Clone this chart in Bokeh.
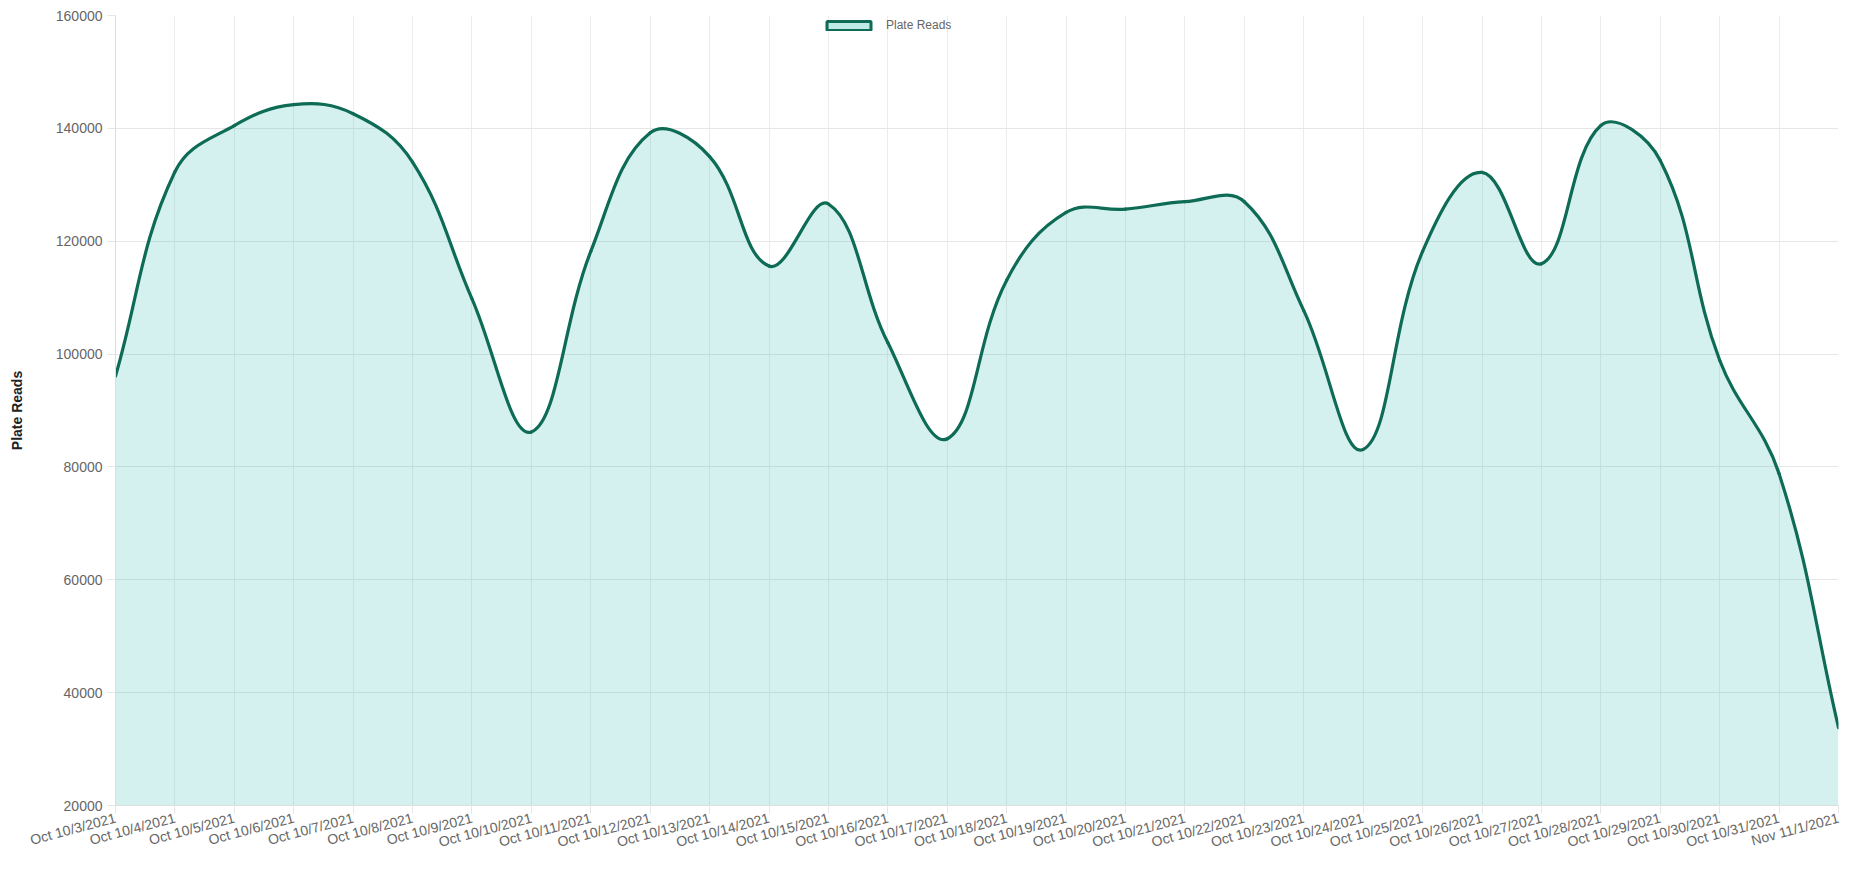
import numpy as np
from bokeh.plotting import figure
from bokeh.models import (Range1d, FixedTicker, BasicTickFormatter, Legend, LegendItem,
                          ColumnDataSource)
from bokeh.embed import file_html
from bokeh.resources import INLINE

# ---- data ----
dates = ["Oct 10/3/2021", "Oct 10/4/2021", "Oct 10/5/2021", "Oct 10/6/2021", "Oct 10/7/2021",
         "Oct 10/8/2021", "Oct 10/9/2021", "Oct 10/10/2021", "Oct 10/11/2021", "Oct 10/12/2021",
         "Oct 10/13/2021", "Oct 10/14/2021", "Oct 10/15/2021", "Oct 10/16/2021", "Oct 10/17/2021",
         "Oct 10/18/2021", "Oct 10/19/2021", "Oct 10/20/2021", "Oct 10/21/2021", "Oct 10/22/2021",
         "Oct 10/23/2021", "Oct 10/24/2021", "Oct 10/25/2021", "Oct 10/26/2021", "Oct 10/27/2021",
         "Oct 10/28/2021", "Oct 10/29/2021", "Oct 10/30/2021", "Oct 10/31/2021", "Nov 11/1/2021"]
plate_reads = [96100, 132300, 140500, 144200, 142600, 134000, 109800, 86200, 118200, 139200,
               135000, 115600, 126600, 102000, 85000, 113100, 125100, 125700, 127000, 127000,
               107700, 83100, 118200, 132200, 116000, 140500, 134300, 98900, 78800, 33800]
y_ticks = [20000, 40000, 60000, 80000, 100000, 120000, 140000, 160000]
series_name = "Plate Reads"
y_title = "Plate Reads"

# ---- layout constants ----
FRAME_W, FRAME_H = 1723, 790
Y_MIN, Y_MAX = 20000, 160000
TENSION = 0.4
LINE_COLOR = "#0e6b55"
FILL_COLOR = "#2bbbad"

n = len(plate_reads)
xs = np.arange(n, dtype=float)
ys = np.array(plate_reads, dtype=float)

# spline control points (Chart.js style), computed in pixel space
sx = FRAME_W / (n - 1)
sy = FRAME_H / (Y_MAX - Y_MIN)
px = xs * sx
py = ys * sy
cp_prev = np.zeros((n, 2))
cp_next = np.zeros((n, 2))
for i in range(n):
    pi = max(i - 1, 0)
    ni = min(i + 1, n - 1)
    d01 = np.hypot(px[i] - px[pi], py[i] - py[pi])
    d12 = np.hypot(px[ni] - px[i], py[ni] - py[i])
    tot = d01 + d12
    s01 = d01 / tot if tot else 0
    s12 = d12 / tot if tot else 0
    fa, fb = TENSION * s01, TENSION * s12
    dx, dy = px[ni] - px[pi], py[ni] - py[pi]
    cp_prev[i] = (px[i] - fa * dx, py[i] - fa * dy)
    cp_next[i] = (px[i] + fb * dx, py[i] + fb * dy)
# back to data space, cap inside chart area
cpp_x, cpp_y = cp_prev[:, 0] / sx, np.clip(cp_prev[:, 1] / sy, Y_MIN, Y_MAX)
cpn_x, cpn_y = cp_next[:, 0] / sx, np.clip(cp_next[:, 1] / sy, Y_MIN, Y_MAX)

seg = dict(x0=xs[:-1], y0=ys[:-1], x1=xs[1:], y1=ys[1:],
           cx0=cpn_x[:-1], cy0=cpn_y[:-1], cx1=cpp_x[1:], cy1=cpp_y[1:])

# sampled curve for the area fill
t = np.linspace(0, 1, 25)[:, None]
def bez(a, b, c, d):
    return ((1 - t) ** 3) * a + 3 * ((1 - t) ** 2) * t * b + 3 * (1 - t) * t ** 2 * c + t ** 3 * d
fx = bez(seg["x0"], seg["cx0"], seg["cx1"], seg["x1"]).T.ravel()
fy = bez(seg["y0"], seg["cy0"], seg["cy1"], seg["y1"]).T.ravel()

p = figure(width=1854, height=874, x_range=Range1d(0, n - 1), y_range=Range1d(Y_MIN, Y_MAX),
           output_backend="svg", toolbar_location=None,
           min_border_left=115, min_border_right=16, min_border_top=15, min_border_bottom=69)
p.outline_line_color = None
p.background_fill_color = "white"
p.border_fill_color = "white"

p.varea(x=fx, y1=np.full_like(fy, Y_MIN), y2=fy, fill_color=FILL_COLOR, fill_alpha=0.2)
p.bezier(source=ColumnDataSource(seg), x0="x0", y0="y0", x1="x1", y1="y1",
         cx0="cx0", cy0="cy0", cx1="cx1", cy1="cy1",
         line_color=LINE_COLOR, line_width=3.2, line_cap="round")

# legend swatch (a glyph with no drawable coordinates; only its legend entry shows)
sw = p.quad(left=[np.nan], right=[np.nan], top=[np.nan], bottom=[np.nan],
            fill_color=FILL_COLOR, fill_alpha=0.3, line_color=LINE_COLOR, line_width=3)
legend = Legend(items=[LegendItem(label=series_name, renderers=[sw])],
                location=(706, FRAME_H - 17), orientation="horizontal",
                glyph_width=55, glyph_height=11, label_height=12, label_width=20,
                padding=2, margin=0, spacing=0, label_standoff=10,
                label_text_font="Liberation Sans", label_text_font_size="12px",
                label_text_color="#666666", border_line_color=None,
                background_fill_alpha=0)
p.add_layout(legend, "center")

# axes
p.xaxis.ticker = FixedTicker(ticks=list(range(n)))
p.xaxis.major_label_overrides = {i: d for i, d in enumerate(dates)}
p.xaxis.major_label_orientation = 0.26
p.yaxis.ticker = FixedTicker(ticks=y_ticks)
p.yaxis.formatter = BasicTickFormatter(use_scientific=False)
for ax in (p.xaxis[0], p.yaxis[0]):
    ax.axis_line_color = "#dddddd"
    ax.major_tick_line_color = "#e6e6e6"
    ax.major_tick_out = 8
    ax.major_tick_in = 0
    ax.minor_tick_out = 0
    ax.minor_tick_in = 0
    ax.major_label_text_font = "Liberation Sans"
    ax.major_label_text_font_size = "14px"
    ax.major_label_text_color = "#666666"
p.xaxis.major_label_standoff = 4
p.yaxis.major_label_standoff = 5
p.yaxis.axis_label = y_title
p.yaxis.axis_label_text_font = "Liberation Sans"
p.yaxis.axis_label_text_font_size = "14px"
p.yaxis.axis_label_text_font_style = "bold"
p.yaxis.axis_label_text_color = "#222222"
p.yaxis.axis_label_standoff = 28

p.xgrid.ticker = FixedTicker(ticks=list(range(n)))
p.ygrid.ticker = FixedTicker(ticks=y_ticks)
p.xgrid.grid_line_color = "#ececec"
p.ygrid.grid_line_color = "#e6e6e6"

open("out.html", "w").write(file_html(p, INLINE))
